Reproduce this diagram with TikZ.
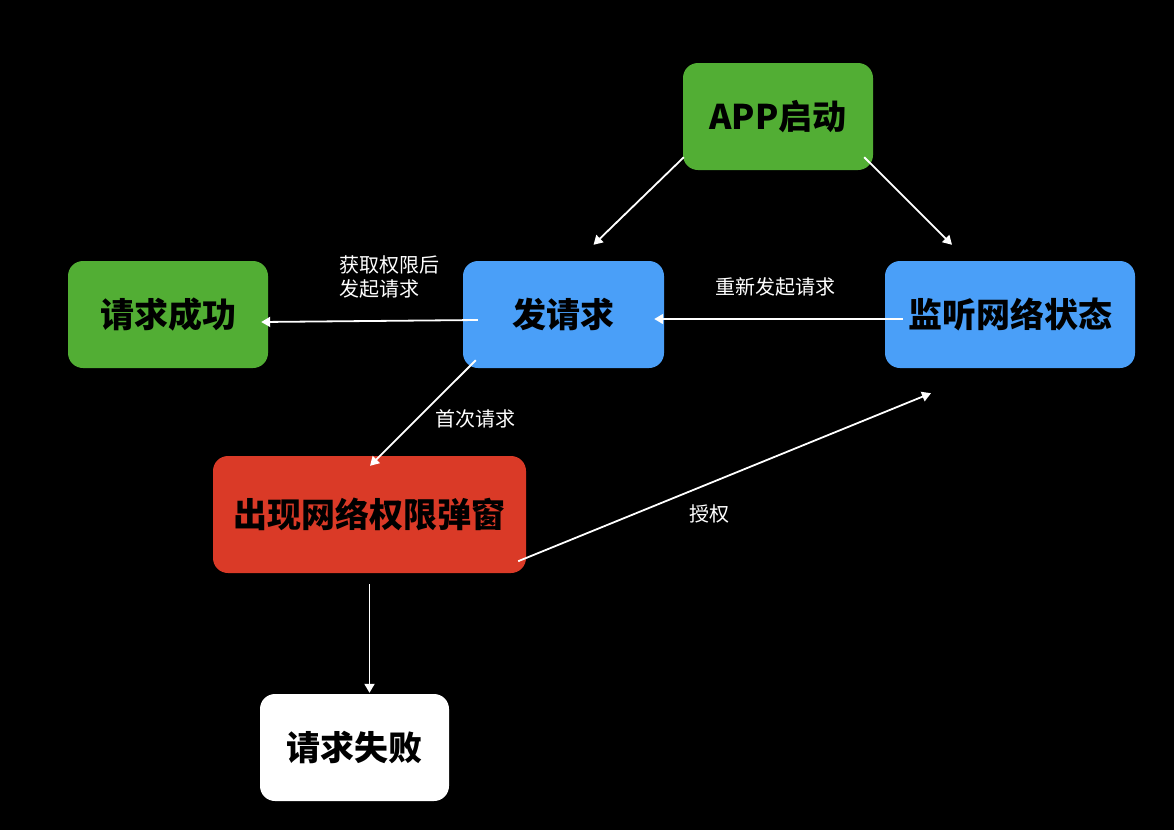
\documentclass[tikz,border=0pt]{standalone}
\usepackage{fontspec}
\newfontfamily\cjk{Noto Sans CJK SC}
\usetikzlibrary{calc,arrows.meta}

\definecolor{boxgreen}{RGB}{82,174,52}
\definecolor{boxblue}{RGB}{74,159,248}
\definecolor{boxred}{RGB}{218,58,39}

\begin{document}
\begin{tikzpicture}[x=1pt, y=-1pt,
    box/.style={rounded corners=15pt, inner sep=0pt, minimum height=107pt,
        font=\cjk\bfseries\fontsize{34}{40}\selectfont, text=black},
    flow/.style={draw=white, line width=1.8pt, -{Triangle[length=9pt, width=10pt]}},
    note/.style={font=\cjk\fontsize{20}{24}\selectfont, text=white, inner sep=0pt}]

    % Background
    \fill[black] (0,0) rectangle (1174,830);
    \useasboundingbox (0,0) rectangle (1174,830);

    % Boxes
    \node[box, fill=boxgreen, minimum width=190pt] (app) at (778,116.5) {APP启动};
    \node[box, fill=boxgreen, minimum width=200pt] (ok) at (168,314.5) {请求成功};
    \node[box, fill=boxblue, minimum width=201pt] (req) at (563.5,314.5) {发请求};
    \node[box, fill=boxblue, minimum width=250pt] (watch) at (1010,314.5) {监听网络状态};
    \node[box, fill=boxred, minimum width=313pt, minimum height=117pt] (popup) at (369.5,514.5) {出现网络权限弹窗};
    \node[box, fill=white, minimum width=189pt] (fail) at (354.5,747.5) {请求失败};

    % Arrows
    \draw[flow] ([shift={(1,-13)}]app.south west) -- ([shift={(30,-16)}]req.north);
    \draw[flow] ([shift={(-9,-13)}]app.south east) -- ([shift={(-58,-16)}]watch.north);
    \draw[flow] ([shift={(15,5.5)}]req.west) -- ([shift={(-7,7.5)}]ok.east);
    \draw[flow] ([shift={(18,4.5)}]watch.west) -- ([shift={(-10,4.5)}]req.east);
    \draw[flow] ([shift={(13,-8)}]req.south west) -- ([shift={(0.5,10)}]popup.north);
    \draw[flow] ([shift={(0,11)}]popup.south) -- ([shift={(0,-1)}]popup.south |- fail.north);
    \draw[flow] ([shift={(-8,-12)}]popup.south east) -- ([shift={(-79,25)}]watch.south);

    % Labels
    \node[note, align=left] (afterauth) at (389,276.5) {获取权限后\\发起请求};
    \node[note] (retry) at (775,287) {重新发起请求};
    \node[note] (first) at (475,419) {首次请求};
    \node[note] (grant) at (709,514) {授权};

\end{tikzpicture}
\end{document}
